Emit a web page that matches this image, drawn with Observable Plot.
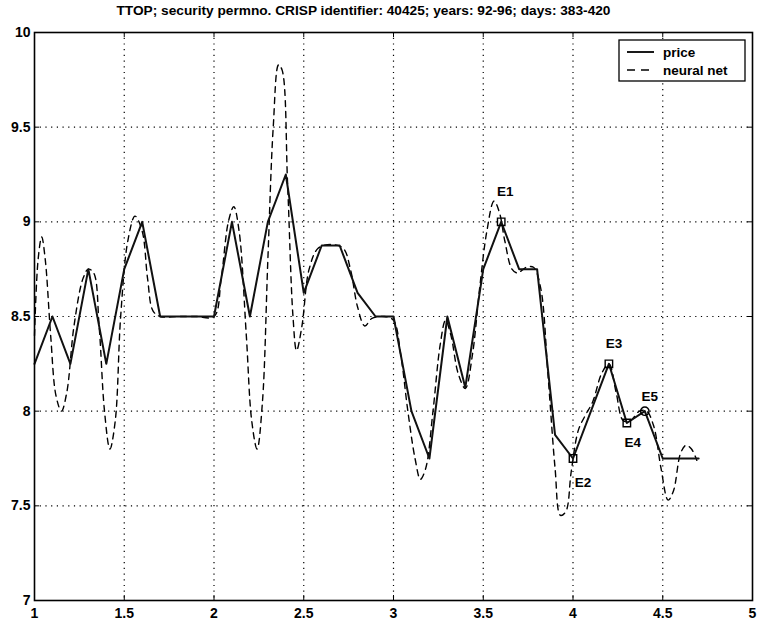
<!DOCTYPE html>
<html><head><meta charset="utf-8">
<script src="https://cdn.jsdelivr.net/npm/d3@7"></script>
<script src="https://cdn.jsdelivr.net/npm/@observablehq/plot@0.6"></script>
<style>
body{margin:0;background:#fff;font-family:"Liberation Sans",Arial,Helvetica,sans-serif;}
#title{box-sizing:border-box;height:22px;width:727px;padding-top:4px;text-align:center;font-size:13.7px;line-height:14px;font-weight:bold;color:#000;white-space:nowrap;}
</style></head><body>
<div id="title"></div>
<div id="chart"></div>
<script>
const titleText = "TTOP; security permno. CRISP identifier: 40425; years: 92-96; days: 383-420";

// price series (solid)
const priceX = [1.0,1.1,1.2,1.3,1.4,1.5,1.6,1.7,1.8,1.9,2.0,2.1,2.2,2.3,2.4,2.5,2.6,2.7,2.8,2.9,3.0,3.1,3.2,3.3,3.4,3.5,3.6,3.7,3.8,3.9,4.0,4.1,4.2,4.3,4.4,4.5,4.6,4.7];
const priceY = [8.25,8.5,8.25,8.75,8.25,8.75,9.0,8.5,8.5,8.5,8.5,9.0,8.5,9.0,9.25,8.625,8.875,8.875,8.625,8.5,8.5,8.0,7.75,8.5,8.125,8.75,9.0,8.75,8.75,7.875,7.75,8.0,8.25,7.9375,8.0,7.75,7.75,7.75];

// neural net fit (dashed)
const nnX = [1.00,1.02,1.04,1.06,1.09,1.12,1.15,1.18,1.22,1.27,1.30,1.33,1.36,1.39,1.42,1.45,1.48,1.52,1.56,1.60,1.63,1.66,1.70,1.80,1.90,2.00,2.04,2.08,2.11,2.14,2.18,2.21,2.24,2.27,2.30,2.33,2.36,2.38,2.41,2.44,2.46,2.49,2.53,2.58,2.65,2.72,2.76,2.80,2.84,2.88,2.95,3.00,3.04,3.08,3.12,3.15,3.18,3.22,3.26,3.29,3.32,3.36,3.40,3.44,3.48,3.52,3.56,3.59,3.62,3.66,3.69,3.74,3.78,3.82,3.86,3.90,3.93,3.96,3.99,4.03,4.07,4.11,4.16,4.20,4.24,4.28,4.32,4.37,4.41,4.45,4.49,4.53,4.56,4.60,4.63,4.66,4.69];
const nnY = [8.40,8.80,8.92,8.80,8.40,8.08,8.00,8.10,8.45,8.70,8.75,8.73,8.45,8.00,7.80,7.95,8.50,8.90,9.03,8.95,8.70,8.53,8.50,8.50,8.50,8.50,8.70,9.00,9.08,8.95,8.40,7.95,7.80,8.05,8.80,9.50,9.83,9.80,9.20,8.50,8.32,8.45,8.75,8.86,8.88,8.86,8.75,8.55,8.45,8.49,8.50,8.48,8.30,8.00,7.75,7.64,7.70,8.00,8.35,8.48,8.40,8.20,8.12,8.30,8.65,8.95,9.11,9.05,8.90,8.75,8.73,8.76,8.76,8.65,8.20,7.70,7.45,7.47,7.68,7.90,7.98,8.05,8.20,8.25,8.10,7.95,7.95,8.00,8.00,7.92,7.70,7.53,7.58,7.78,7.82,7.80,7.74];

// marked events
const eventNames = ["E1","E2","E3","E4","E5"];
const eventX = [3.6,4.0,4.2,4.3,4.4];
const eventY = [9.0,7.75,8.25,7.9375,8.0];
const eventSymbol = ["square","square","square","square","circle"];

// axes
const xTicks = [1,1.5,2,2.5,3,3.5,4,4.5,5];
const yTicks = [7,7.5,8,8.5,9,9.5,10];
const legendLabels = ["price","neural net"];

document.getElementById("title").textContent = titleText;

const W = 761, H = 608, mT = 10, mB = 30, mL = 34, mR = 9;
const plotH = H - mT - mB, plotW = W - mL - mR;
const font = '"Liberation Sans", Arial, Helvetica, sans-serif';

const pIdx = d3.range(priceX.length);
const nIdx = d3.range(nnX.length);
const eIdx = d3.range(eventNames.length);
const labelOffset = {E1:[4,-30], E2:[10,24], E3:[5,-20], E4:[6,20], E5:[5,-14]};
const inner = xTicks.slice(1,-1), innerY = yTicks.slice(1,-1);

const chart = Plot.plot({
  width: W, height: H, marginTop: mT, marginBottom: mB, marginLeft: mL, marginRight: mR,
  x: {domain: [1,5]},
  y: {domain: [7,10]},
  style: {fontFamily: font, fontSize: "13px", color: "black", background: "white", overflow: "visible"},
  marks: [
    Plot.gridX(inner, {stroke: "black", strokeOpacity: 1, strokeWidth: 1.2, strokeDasharray: "1.2,4.5"}),
    Plot.gridY(innerY, {stroke: "black", strokeOpacity: 1, strokeWidth: 1.2, strokeDasharray: "1.2,4.5"}),
    Plot.tickX(inner, {x: d => d, insetTop: plotH - 5, stroke: "black", strokeWidth: 1}),
    Plot.tickX(inner, {x: d => d, insetBottom: plotH - 5, stroke: "black", strokeWidth: 1}),
    Plot.tickY(innerY, {y: d => d, insetLeft: plotW - 5, stroke: "black", strokeWidth: 1}),
    Plot.tickY(innerY, {y: d => d, insetRight: plotW - 5, stroke: "black", strokeWidth: 1}),
    Plot.axisX(xTicks, {tickSize: 0, tickPadding: 8, fontWeight: "bold", fontSize: 14, tickFormat: d => String(d)}),
    Plot.axisY(yTicks, {tickSize: 0, tickPadding: 4, fontWeight: "bold", fontSize: 14, tickFormat: d => String(d)}),
    Plot.line(nIdx, {x: i => nnX[i], y: i => nnY[i], curve: "catmull-rom", stroke: "black", strokeWidth: 1.4, strokeDasharray: "6,5"}),
    Plot.line(pIdx, {x: i => priceX[i], y: i => priceY[i], stroke: "#111", strokeWidth: 2}),
    Plot.dot(eIdx, {x: i => eventX[i], y: i => eventY[i], symbol: i => eventSymbol[i], r: 4.2, stroke: "black", strokeWidth: 1.4, fill: "none"}),
    ...eventNames.map((name, k) => Plot.text([k], {x: i => eventX[i], y: i => eventY[i], text: i => eventNames[i],
        dx: labelOffset[name][0], dy: labelOffset[name][1], fontSize: 13.5, fontWeight: "bold", fill: "black"})),
    Plot.frame({stroke: "black", strokeWidth: 1.6})
  ]
});
document.getElementById("chart").appendChild(chart);

// legend box (top-right, inside axes)
const svg = d3.select(chart);
const lg = svg.append("g").attr("font-family", font).attr("font-size", 13.5).attr("font-weight", "bold").attr("text-anchor", "start");
lg.append("rect").attr("x", 619).attr("y", 18).attr("width", 126).attr("height", 41)
  .attr("fill", "white").attr("stroke", "black").attr("stroke-width", 1.3);
const rows = [{dash: null, w: 1.8}, {dash: "8,6", w: 1.4}];
legendLabels.forEach((lab, i) => {
  const y = 30 + i * 18;
  lg.append("line").attr("x1", 627).attr("x2", 654).attr("y1", y).attr("y2", y)
    .attr("stroke", "black").attr("stroke-width", rows[i].w).attr("stroke-dasharray", rows[i].dash);
  lg.append("text").attr("x", 663).attr("y", y).attr("dy", "0.35em").attr("text-anchor", "start").attr("fill", "black").text(lab);
});
</script>
</body></html>
